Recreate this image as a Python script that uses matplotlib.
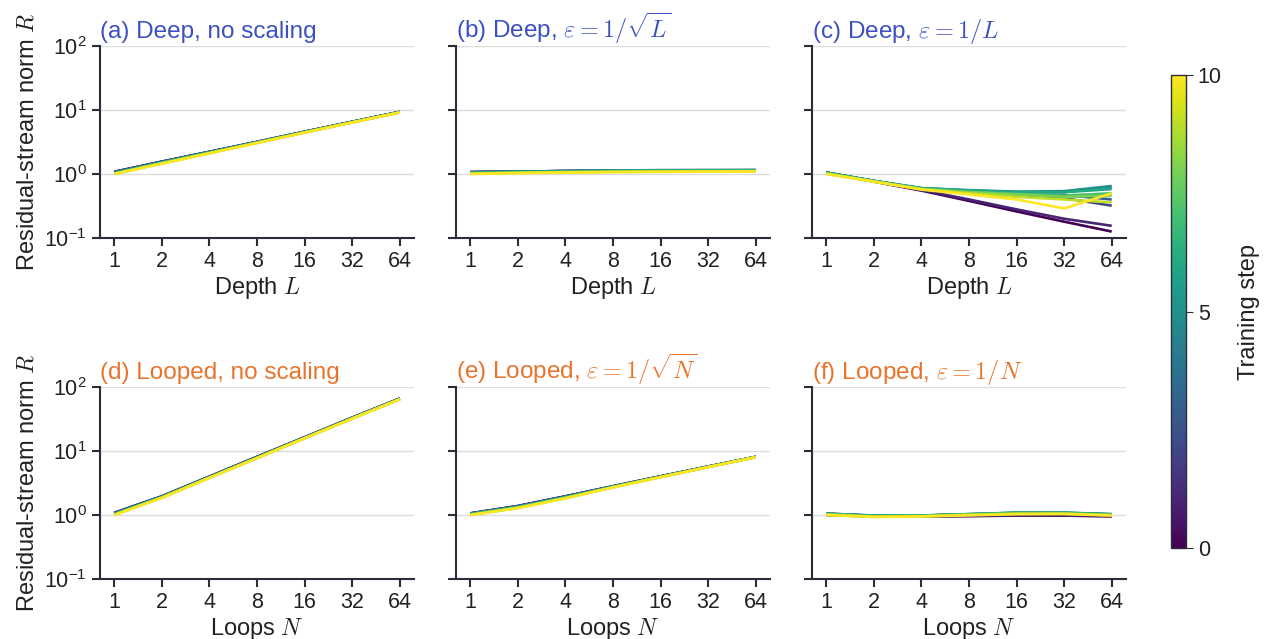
import numpy as np
import matplotlib
matplotlib.use("Agg")
import matplotlib.pyplot as plt
from matplotlib import cm, colors, ticker

plt.rcParams['font.family'] = ['Liberation Sans', 'DejaVu Sans']
plt.rcParams['mathtext.fontset'] = 'cm'

# x positions (depth L / loops N) and training steps
sizes = [1, 2, 4, 8, 16, 32, 64]
steps = list(range(11))
xtick_labels = ['1', '2', '4', '8', '16', '32', '64']

# one row per training step (0 .. 10)
deep_none = [
    [1.08, 1.56, 2.22, 3.18, 4.58, 6.55, 9.35],
    [1.08, 1.56, 2.22, 3.17, 4.57, 6.54, 9.33],
    [1.07, 1.55, 2.21, 3.16, 4.56, 6.52, 9.30],
    [1.06, 1.54, 2.20, 3.15, 4.55, 6.50, 9.28],
    [1.05, 1.53, 2.19, 3.14, 4.54, 6.49, 9.26],
    [1.04, 1.52, 2.18, 3.13, 4.52, 6.47, 9.24],
    [1.03, 1.50, 2.16, 3.11, 4.50, 6.45, 9.22],
    [1.02, 1.49, 2.14, 3.09, 4.48, 6.43, 9.20],
    [1.01, 1.48, 2.13, 3.08, 4.46, 6.41, 9.18],
    [1.00, 1.46, 2.11, 3.06, 4.44, 6.39, 9.16],
    [1.00, 1.45, 2.10, 3.05, 4.43, 6.38, 9.15],
]
deep_sqrt = [
    [1.07, 1.09, 1.11, 1.12, 1.13, 1.13, 1.13],
    [1.07, 1.09, 1.11, 1.12, 1.13, 1.13, 1.13],
    [1.07, 1.09, 1.11, 1.13, 1.14, 1.14, 1.14],
    [1.06, 1.09, 1.11, 1.13, 1.14, 1.14, 1.15],
    [1.06, 1.09, 1.11, 1.13, 1.15, 1.15, 1.15],
    [1.05, 1.08, 1.10, 1.13, 1.14, 1.15, 1.15],
    [1.04, 1.07, 1.09, 1.11, 1.13, 1.13, 1.13],
    [1.03, 1.06, 1.08, 1.10, 1.11, 1.12, 1.12],
    [1.02, 1.05, 1.07, 1.09, 1.10, 1.10, 1.11],
    [1.01, 1.04, 1.06, 1.08, 1.09, 1.09, 1.10],
    [1.00, 1.03, 1.05, 1.07, 1.08, 1.09, 1.09],
]
deep_inv = [
    [1.05, 0.76, 0.55, 0.38, 0.26, 0.18, 0.126],
    [1.05, 0.77, 0.56, 0.40, 0.28, 0.20, 0.155],
    [1.05, 0.78, 0.58, 0.50, 0.45, 0.42, 0.32],
    [1.05, 0.78, 0.59, 0.52, 0.48, 0.47, 0.40],
    [1.05, 0.78, 0.60, 0.55, 0.52, 0.52, 0.62],
    [1.05, 0.78, 0.60, 0.56, 0.53, 0.54, 0.65],
    [1.04, 0.78, 0.60, 0.55, 0.52, 0.52, 0.58],
    [1.03, 0.77, 0.59, 0.53, 0.49, 0.46, 0.50],
    [1.02, 0.77, 0.58, 0.52, 0.48, 0.44, 0.46],
    [1.01, 0.76, 0.58, 0.50, 0.44, 0.40, 0.36],
    [1.00, 0.76, 0.57, 0.48, 0.40, 0.29, 0.50],
]
loop_none = [
    [1.08, 1.96, 3.98, 8.1, 16.4, 33.2, 66.0],
    [1.08, 1.95, 3.97, 8.1, 16.3, 33.1, 65.8],
    [1.07, 1.94, 3.95, 8.0, 16.2, 33.0, 65.6],
    [1.06, 1.93, 3.93, 8.0, 16.2, 32.8, 65.4],
    [1.05, 1.92, 3.91, 7.9, 16.1, 32.7, 65.2],
    [1.04, 1.91, 3.89, 7.9, 16.0, 32.6, 65.0],
    [1.03, 1.90, 3.87, 7.9, 16.0, 32.5, 64.8],
    [1.02, 1.89, 3.85, 7.8, 15.9, 32.4, 64.6],
    [1.01, 1.88, 3.83, 7.8, 15.9, 32.3, 64.4],
    [1.00, 1.86, 3.81, 7.8, 15.8, 32.1, 64.2],
    [1.00, 1.85, 3.80, 7.7, 15.8, 32.0, 64.0],
]
loop_sqrt = [
    [1.06, 1.38, 1.96, 2.82, 4.02, 5.72, 8.10],
    [1.06, 1.38, 1.95, 2.81, 4.01, 5.71, 8.09],
    [1.05, 1.37, 1.94, 2.80, 4.00, 5.70, 8.08],
    [1.05, 1.36, 1.93, 2.79, 3.99, 5.69, 8.07],
    [1.04, 1.35, 1.91, 2.78, 3.98, 5.68, 8.06],
    [1.04, 1.34, 1.90, 2.77, 3.97, 5.67, 8.05],
    [1.03, 1.33, 1.88, 2.75, 3.95, 5.65, 8.04],
    [1.02, 1.32, 1.87, 2.74, 3.94, 5.64, 8.03],
    [1.01, 1.30, 1.85, 2.72, 3.92, 5.62, 8.02],
    [1.00, 1.29, 1.83, 2.71, 3.91, 5.61, 8.01],
    [1.00, 1.28, 1.82, 2.70, 3.90, 5.60, 8.00],
]
loop_inv = [
    [1.00, 0.95, 0.95, 0.96, 0.98, 0.98, 0.95],
    [1.01, 0.95, 0.95, 0.97, 0.99, 0.99, 0.96],
    [1.04, 0.97, 0.97, 1.01, 1.05, 1.05, 1.01],
    [1.05, 0.97, 0.98, 1.02, 1.07, 1.07, 1.02],
    [1.05, 0.98, 0.98, 1.03, 1.08, 1.08, 1.03],
    [1.05, 0.98, 0.98, 1.03, 1.09, 1.09, 1.03],
    [1.04, 0.97, 0.98, 1.03, 1.08, 1.08, 1.02],
    [1.03, 0.96, 0.97, 1.02, 1.07, 1.07, 1.01],
    [1.02, 0.95, 0.96, 1.01, 1.05, 1.05, 1.00],
    [1.01, 0.94, 0.95, 1.00, 1.04, 1.04, 0.99],
    [1.00, 0.93, 0.95, 0.99, 1.03, 1.04, 0.98],
]

blue = '#3d50c3'
orange = '#e8742c'
spine_col = '#2b2d3a'

panels = [
    (deep_none, '(a) Deep, no scaling', blue, r'Depth $L$'),
    (deep_sqrt, r'(b) Deep, $\varepsilon = 1/\sqrt{L}$', blue, r'Depth $L$'),
    (deep_inv, r'(c) Deep, $\varepsilon = 1/L$', blue, r'Depth $L$'),
    (loop_none, '(d) Looped, no scaling', orange, r'Loops $N$'),
    (loop_sqrt, r'(e) Looped, $\varepsilon = 1/\sqrt{N}$', orange, r'Loops $N$'),
    (loop_inv, r'(f) Looped, $\varepsilon = 1/N$', orange, r'Loops $N$'),
]

W, H = 1266, 639
fig = plt.figure(figsize=(W / 100, H / 100), dpi=100)

lefts = [100, 456, 812]
tops = [46, 387]
aw, ah = 314, 192

cmap = plt.get_cmap('viridis')
norm = colors.Normalize(vmin=0, vmax=10)

for i, (data, title, tcol, xlab) in enumerate(panels):
    r, c = divmod(i, 3)
    ax = fig.add_axes([lefts[c] / W, 1 - (tops[r] + ah) / H, aw / W, ah / H])
    for s, row in zip(steps, data):
        ax.plot(sizes, row, color=cmap(norm(s)), lw=1.9, solid_capstyle='butt')
    ax.set_xscale('log', base=2)
    ax.set_yscale('log')
    ax.set_xlim(2 ** -0.3, 64 * 2 ** 0.3)
    ax.set_ylim(0.1, 100)
    ax.set_xticks(sizes)
    ax.set_xticklabels(xtick_labels)
    ax.xaxis.set_minor_locator(ticker.NullLocator())
    ax.yaxis.set_minor_locator(ticker.NullLocator())
    ax.set_yticks([0.1, 1, 10, 100])
    ax.grid(axis='y', color='#dcdcdc', lw=1.0)
    ax.set_axisbelow(True)
    for sp in ['top', 'right']:
        ax.spines[sp].set_visible(False)
    for sp in ['left', 'bottom']:
        ax.spines[sp].set_color(spine_col)
        ax.spines[sp].set_linewidth(1.5)
    ax.tick_params(colors=spine_col, labelcolor='#222222', width=1.5, length=6,
                   labelsize=15.5)
    if c != 0:
        ax.set_yticklabels([])
    else:
        ax.set_ylabel(r'Residual-stream norm $R$', fontsize=17, color='#222222')
    ax.set_xlabel(xlab, fontsize=17, color='#222222', labelpad=2)
    ax.set_title(title, loc='left', color=tcol, fontsize=17.5, pad=6)

cax = fig.add_axes([1171 / W, 1 - 548 / H, 15 / W, 473 / H])
sm = cm.ScalarMappable(norm=norm, cmap=cmap)
cb = fig.colorbar(sm, cax=cax, ticks=[0, 5, 10])
cb.outline.set_edgecolor(spine_col)
cb.outline.set_linewidth(1.0)
cb.ax.tick_params(labelsize=15.5, colors=spine_col, labelcolor='#222222', length=5)
cb.set_label('Training step', fontsize=17, color='#222222', labelpad=12)

fig.savefig('out.png', dpi=100)
